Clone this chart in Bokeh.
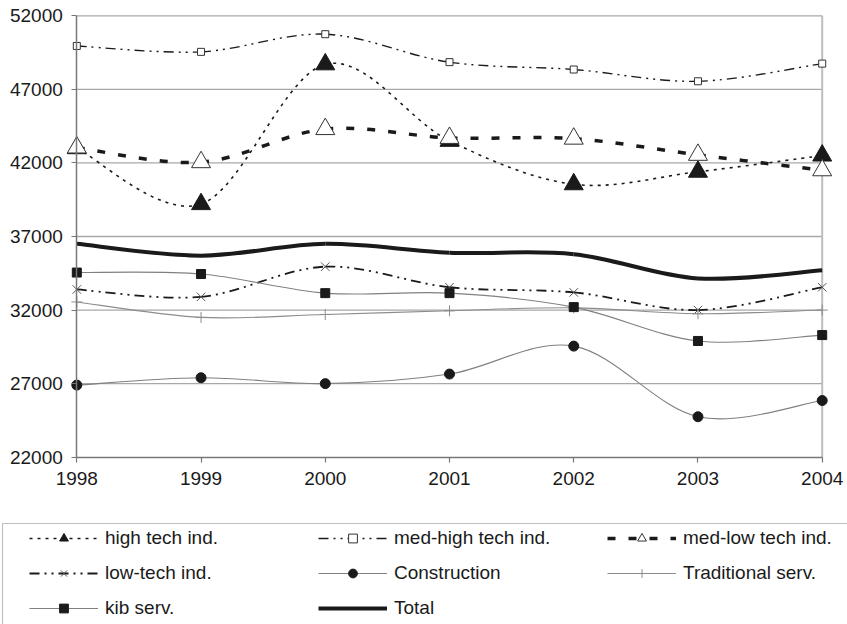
from bokeh.plotting import figure
from bokeh.models import (Range1d, FixedTicker, Legend, LegendItem, ColumnDataSource,
                          BoxAnnotation)
from bokeh.embed import file_html
from bokeh.resources import INLINE

years = [1998, 1999, 2000, 2001, 2002, 2003, 2004]
high_tech = [43000, 39200, 48700, 43500, 40550, 41400, 42500]
med_high = [49950, 49550, 50750, 48850, 48350, 47550, 48750]
med_low = [43050, 42050, 44300, 43700, 43650, 42550, 41500]
low_tech = [33400, 32900, 34950, 33550, 33200, 32000, 33550]
construction = [26900, 27400, 27000, 27650, 29550, 24750, 25850]
traditional = [32550, 31500, 31700, 31950, 32150, 31750, 32000]
kib = [34550, 34450, 33150, 33150, 32200, 29900, 30300]
total = [36500, 35700, 36500, 35900, 35800, 34150, 34700]
y_ticks = [22000, 27000, 32000, 37000, 42000, 47000, 52000]

FONT = "Liberation Sans"
BLK = "#1a1a1a"

# page geometry (pixels) -> the frame covers the whole canvas
W, H = 847, 624
X_L, X_R = 76.3, 821.7      # where the first / last year sit
Y_T, Y_B = 15.3, 456.7      # where the top / bottom tick sit
LEG_LEFT, LEG_TOP = 2, 523  # legend box corner
xpp = (years[-1] - years[0]) / (X_R - X_L)
ypp = (y_ticks[-1] - y_ticks[0]) / (Y_B - Y_T)
x_start = years[0] - X_L * xpp
x_end = years[-1] + (W - X_R) * xpp
y_top = y_ticks[-1] + Y_T * ypp
y_bot = y_ticks[0] - (H - Y_B) * ypp

p = figure(frame_width=W, frame_height=H, min_border=0,
           min_border_left=0, min_border_right=0, min_border_top=0, min_border_bottom=0,
           x_range=Range1d(x_start, x_end), y_range=Range1d(y_bot, y_top),
           output_backend="svg", toolbar_location=None, title=None)
p.background_fill_color = "white"
p.border_fill_color = "white"
p.outline_line_color = None
p.xgrid.grid_line_color = None
p.ygrid.grid_line_color = None

p.xaxis.ticker = FixedTicker(ticks=years)
p.yaxis.ticker = FixedTicker(ticks=y_ticks)
p.xaxis.fixed_location = y_ticks[0]
p.yaxis.fixed_location = years[0]
p.xaxis.bounds = (years[0], years[-1])
p.yaxis.bounds = (y_ticks[0], y_ticks[-1])
for ax in (p.xaxis[0], p.yaxis[0]):
    ax.axis_line_color = "#777777"
    ax.axis_line_width = 1.5
    ax.major_tick_line_color = "#777777"
    ax.major_tick_line_width = 1.2
    ax.major_tick_in = 0
    ax.major_tick_out = 5
    ax.minor_tick_line_color = None
    ax.major_label_text_font = FONT
    ax.major_label_text_font_size = "19px"
    ax.major_label_text_color = BLK
p.xaxis.major_label_standoff = 10
p.yaxis.major_label_standoff = 9

# horizontal gridlines and right border of the plot area
p.segment(x0=years[0], x1=years[-1], y0=y_ticks[1:], y1=y_ticks[1:],
          line_color="#a8a8a8", line_width=1.3)
p.segment(x0=[years[-1]], x1=[years[-1]], y0=[y_ticks[0]], y1=[y_ticks[-1]],
          line_color="#bdbdbd", line_width=2)


def smooth(xs, ys):
    n = len(xs)
    d = dict(x0=[], y0=[], x1=[], y1=[], cx0=[], cy0=[], cx1=[], cy1=[])
    for i in range(n - 1):
        a = max(i - 1, 0)
        b = min(i + 2, n - 1)
        d["x0"].append(xs[i]); d["y0"].append(ys[i])
        d["x1"].append(xs[i + 1]); d["y1"].append(ys[i + 1])
        d["cx0"].append(xs[i] + (xs[i + 1] - xs[a]) / 6)
        d["cy0"].append(ys[i] + (ys[i + 1] - ys[a]) / 6)
        d["cx1"].append(xs[i + 1] - (xs[b] - xs[i]) / 6)
        d["cy1"].append(ys[i + 1] - (ys[b] - ys[i]) / 6)
    return ColumnDataSource(d)


def series(vals, line_color, line_width, line_dash, marker=None, size=0,
           fill_color=None, mline_color=None, mline_width=1):
    src = smooth(years, vals)
    rs = [p.bezier(x0="x0", y0="y0", x1="x1", y1="y1", cx0="cx0", cy0="cy0",
                   cx1="cx1", cy1="cy1", source=src, line_color=line_color,
                   line_width=line_width, line_dash=line_dash)]
    if marker is not None:
        rs.append(p.scatter(x=years, y=vals, marker=marker, size=size,
                            fill_color=fill_color, line_color=mline_color,
                            line_width=mline_width))
    return rs


r_ht = series(high_tech, BLK, 1.6, "3 5", "triangle", 19, BLK, BLK)
r_mh = series(med_high, BLK, 1.4, "10 5 2 5 2 5", "square", 7, "white", "#333333")
r_ml = series(med_low, BLK, 3.5, "8 13", "triangle", 19, "white", "#333333")
r_lt = series(low_tech, BLK, 1.8, "10 5 2 5 2 5", "x", 12, None, "#555555", 1)
r_co = series(construction, "#808080", 1.1, "solid", "circle", 10, BLK, BLK)
r_tr = series(traditional, "#8c8c8c", 1.1, "solid", "cross", 11, None, "#8c8c8c", 1)
r_kb = series(kib, "#808080", 1.1, "solid", "square", 9, BLK, BLK)
r_to = series(total, BLK, 4, "solid")

entries = [("high tech ind.", r_ht), ("med-high tech ind.", r_mh),
           ("med-low tech ind.", r_ml), ("low-tech ind.", r_lt),
           ("Construction", r_co), ("Traditional serv.", r_tr),
           ("kib serv.", r_kb), ("Total", r_to)]

legend = Legend(items=[LegendItem(label=l, renderers=r) for l, r in entries],
                location=(29, 5), orientation="horizontal", ncols=3,
                padding=0, margin=0, spacing=13,
                glyph_width=69, glyph_height=22, label_height=22, label_width=200,
                label_standoff=7, border_line_color=None,
                background_fill_alpha=0,
                label_text_font=FONT, label_text_font_size="19px",
                label_text_color=BLK)
p.add_layout(legend, "center")

box = BoxAnnotation(left=x_start + LEG_LEFT * xpp, right=x_end + 20 * xpp,
                    top=y_top - LEG_TOP * ypp, bottom=y_bot - 20 * ypp,
                    fill_alpha=0, line_color="#333333", line_width=1.2)
p.add_layout(box)

open("out.html", "w").write(file_html(p, INLINE))
